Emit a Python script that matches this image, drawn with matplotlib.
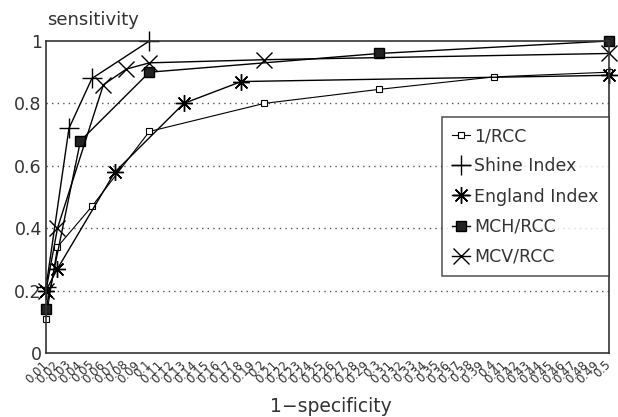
import numpy as np
import matplotlib
matplotlib.use("Agg")
import matplotlib.pyplot as plt

# x categories: 1-specificity from 0.01 to 0.5
x_cats = [round(0.01 * k, 2) for k in range(1, 51)]
x_labels = ["%g" % v for v in x_cats]

# series (1-specificity, sensitivity)
rcc_x = [0.01, 0.02, 0.05, 0.1, 0.2, 0.3, 0.4, 0.5]
rcc_y = [0.11, 0.34, 0.47, 0.71, 0.80, 0.845, 0.885, 0.90]

shine_x = [0.01, 0.03, 0.05, 0.1]
shine_y = [0.21, 0.72, 0.88, 1.0]

england_x = [0.01, 0.02, 0.07, 0.13, 0.18, 0.5]
england_y = [0.20, 0.27, 0.58, 0.80, 0.87, 0.89]

mch_x = [0.01, 0.04, 0.1, 0.3, 0.5]
mch_y = [0.14, 0.68, 0.90, 0.96, 1.0]

mcv_x = [0.01, 0.02, 0.06, 0.08, 0.1, 0.2, 0.5]
mcv_y = [0.20, 0.40, 0.86, 0.91, 0.93, 0.94, 0.96]

y_ticks = [0, 0.2, 0.4, 0.6, 0.8, 1]


def pos(xs):
    # category index of each x value
    return [x_cats.index(round(v, 2)) for v in xs]


fig = plt.figure(figsize=(6.18, 4.17), dpi=100)
ax = fig.add_axes([0.0744, 0.1535, 0.9110, 0.7482])

ax.plot(pos(rcc_x), rcc_y, color='k', lw=0.8, marker='s', ms=4,
        mfc='white', mec='k', mew=0.8, label='1/RCC', clip_on=False)
ax.plot(pos(shine_x), shine_y, color='k', lw=1.0, marker='+', ms=14,
        mew=1.0, label='Shine Index', clip_on=False)
ax.plot(pos(england_x), england_y, color='k', lw=1.0, marker=(8, 2, 0),
        ms=12, mew=1.0, label='England Index', clip_on=False)
ax.plot(pos(mch_x), mch_y, color='k', lw=1.0, marker='s', ms=7,
        mfc='#222222', mec='k', label='MCH/RCC', clip_on=False)
ax.plot(pos(mcv_x), mcv_y, color='k', lw=1.0, marker='x', ms=12,
        mew=1.0, label='MCV/RCC', clip_on=False)

ax.set_xlim(0, len(x_cats) - 1)
ax.set_ylim(0, 1)
ax.set_xticks(range(len(x_cats)))
ax.set_xticklabels(x_labels, rotation=45, ha='right', va='center',
                   rotation_mode='anchor', fontsize=8.5, color='#333333')
ax.set_yticks(y_ticks)
ax.set_yticklabels(["%g" % v for v in y_ticks], fontsize=12.5, color='#333333')
ax.tick_params(axis='y', length=0, pad=3)
ax.tick_params(axis='x', length=0, pad=7)

# dotted horizontal grid
for yv in y_ticks[1:-1]:
    ax.axhline(yv, color='#555555', lw=1.0, ls=(0, (1, 3)), zorder=0)

for s in ax.spines.values():
    s.set_color('#333333')
    s.set_linewidth(1.2)

leg = ax.legend(loc='upper right', bbox_to_anchor=(1.0, 0.757),
                fontsize=12.5, frameon=True, fancybox=False, edgecolor='#333333',
                handlelength=1.0, handletextpad=0.25, labelspacing=0.7,
                borderpad=0.6, borderaxespad=0, numpoints=1)
leg.get_frame().set_linewidth(1.2)
for t in leg.get_texts():
    t.set_color('#333333')

fig.text(93 / 618, 1 - 20 / 417, 'sensitivity', ha='center', va='center',
         fontsize=13, color='#333333')
fig.text(331 / 618, 10 / 417, '1\u2212specificity', ha='center', va='center',
         fontsize=13.5, color='#333333')

fig.savefig('out.png', dpi=100)
